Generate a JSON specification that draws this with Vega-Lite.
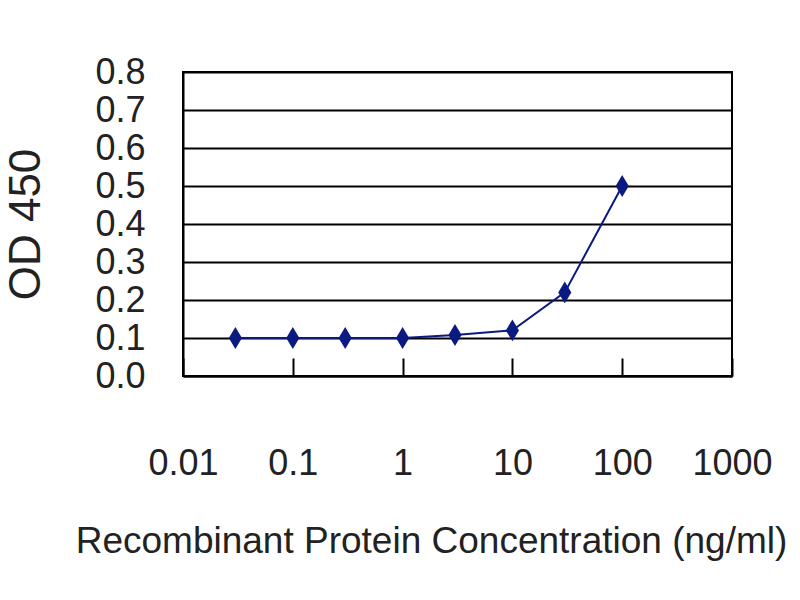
{
  "$schema": "https://vega.github.io/schema/vega-lite/v6.json",
  "width": 549,
  "height": 304,
  "autosize": {"type": "none"},
  "padding": {"left": 183, "top": 72, "right": 68, "bottom": 224},
  "background": "white",
  "config": {
    "font": "Liberation Sans",
    "view": {"stroke": "black", "strokeWidth": 2},
    "axis": {
      "domainColor": "black",
      "domainWidth": 2,
      "gridColor": "black",
      "gridWidth": 2,
      "gridOpacity": 1,
      "labelColor": "#222222",
      "titleColor": "#222222",
      "labelFontWeight": "normal",
      "titleFontWeight": "normal"
    }
  },
  "data": {
    "values": [
      {"conc": 0.03, "od": 0.10},
      {"conc": 0.1, "od": 0.10},
      {"conc": 0.3, "od": 0.10},
      {"conc": 1, "od": 0.10},
      {"conc": 3, "od": 0.108},
      {"conc": 10, "od": 0.12},
      {"conc": 30, "od": 0.22},
      {"conc": 100, "od": 0.50}
    ]
  },
  "encoding": {
    "x": {
      "field": "conc",
      "type": "quantitative",
      "scale": {"type": "log", "domain": [0.01, 1000]},
      "axis": {
        "title": "Recombinant Protein Concentration (ng/ml)",
        "values": [0.01, 0.1, 1, 10, 100, 1000],
        "format": "~g",
        "grid": false,
        "tickColor": "black",
        "tickWidth": 2,
        "tickSize": -18,
        "labelFontSize": 36,
        "labelBaseline": "alphabetic",
        "labelPadding": 116,
        "labelFlush": false,
        "titleFontSize": 37,
        "titleBaseline": "alphabetic",
        "titleX": 248,
        "titleY": 176
      }
    },
    "y": {
      "field": "od",
      "type": "quantitative",
      "scale": {"domain": [0, 0.8], "nice": false},
      "axis": {
        "title": "OD 450",
        "values": [0, 0.1, 0.2, 0.3, 0.4, 0.5, 0.6, 0.7, 0.8],
        "format": ".1f",
        "ticks": false,
        "labelFontSize": 36,
        "labelPadding": 38,
        "labelFlush": false,
        "titleFontSize": 44,
        "titlePadding": 46
      }
    }
  },
  "layer": [
    {
      "mark": {"type": "line", "color": "#0b1a80", "strokeWidth": 2}
    },
    {
      "mark": {
        "type": "point",
        "shape": "M0,-1L0.6,0L0,1L-0.6,0Z",
        "size": 480,
        "filled": true,
        "opacity": 1,
        "color": "#0b1a80"
      }
    }
  ]
}
